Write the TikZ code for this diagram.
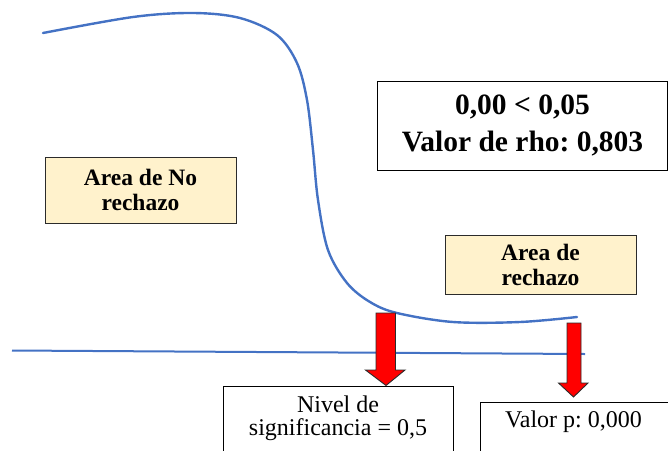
\documentclass[tikz,border=0pt]{standalone}
\usepackage{fontspec}
\setmainfont{Liberation Serif}
\frenchspacing
\definecolor{curveblue}{HTML}{4472C4}
\definecolor{boxyellow}{HTML}{FFF2CC}
\definecolor{arrowred}{HTML}{FF0000}
\definecolor{darkline}{HTML}{2B2B2B}
\tikzset{
  yellowbox/.style={draw=darkline, line width=1pt, fill=boxyellow, align=center, inner sep=0pt,
    font=\rmfamily\bfseries\fontsize{23.5}{25}\selectfont},
  whitebox/.style={draw=black, line width=1pt, fill=white},
  plaintext/.style={align=center, inner sep=0pt, font=\rmfamily\fontsize{24}{23}\selectfont},
  blockarrow/.style={fill=arrowred, draw=darkline, line width=0.9pt, line join=miter},
  blueline/.style={draw=curveblue, line width=2.4pt, line cap=round}
}
\begin{document}
\begin{tikzpicture}[x=1pt,y=-1pt]
\useasboundingbox (0,0) rectangle (668,450);
% curve
\draw[blueline] plot[smooth, tension=0.55] coordinates {
 (43,33) (133,17) (193,13) (240,18) (277,35) (297,63) (307,100) (313,150)
 (318,200) (328,250) (347,283) (370,302) (397,313) (453,322) (520,322) (577,317)};
% horizontal axis
\draw[draw=curveblue, line width=2pt] (12,350.5) -- (585,354);
% boxes
\node[yellowbox, minimum width=191pt, minimum height=66pt] (norechazo) at (140.5,190) {Area de No\\rechazo};
\node[yellowbox, minimum width=191pt, minimum height=59pt] (rechazo) at (540.5,264.5) {Area de\\rechazo};
\node[whitebox, minimum width=290pt, minimum height=89pt, align=center, inner sep=0pt,
  font=\rmfamily\bfseries\fontsize{29.5}{36.5}\selectfont] (result) at (522.5,125.5) {0,00 < 0,05\\Valor de rho: 0,803};
% bottom boxes
\draw[whitebox] (223,386) rectangle (453,460);
\node[plaintext, anchor=north] (nivel) at (338,396) {Nivel de\\significancia = 0,5};
\draw[whitebox] (480,402) rectangle (672,460);
\node[plaintext, anchor=north] (valorp) at (573.5,411) {Valor p: 0,000};
% block arrows
\draw[blockarrow] (376,313) -- (395.5,313) -- (395.5,370) -- (405,370) -- (386,385.5) -- (365.5,370) -- (376,370) -- cycle;
\draw[blockarrow] (567,323) -- (581,323) -- (581,383) -- (588,383) -- (573.5,397) -- (558.5,383) -- (567,383) -- cycle;
\end{tikzpicture}
\end{document}
